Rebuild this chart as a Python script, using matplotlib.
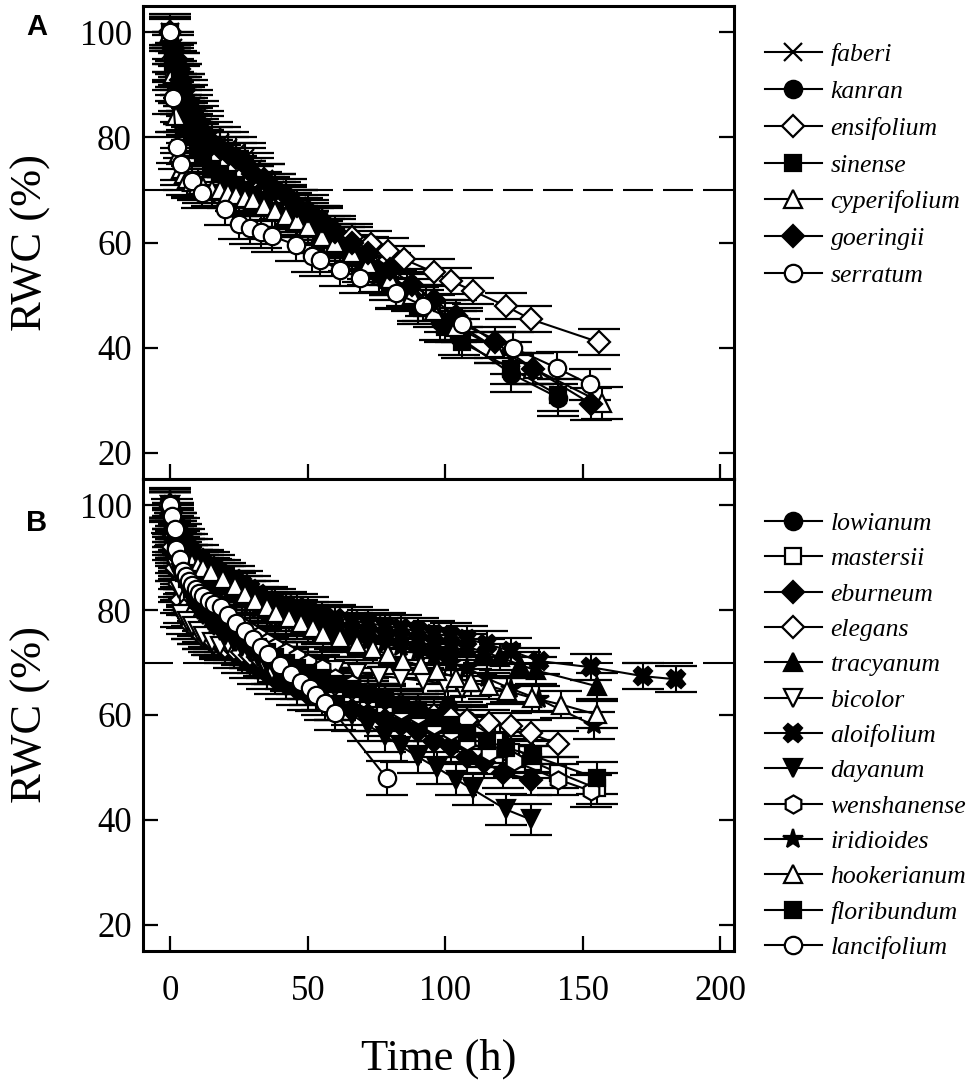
import matplotlib
matplotlib.use("Agg")
import matplotlib.pyplot as plt

plt.rcParams['font.family'] = ['Liberation Serif', 'DejaVu Serif']
plt.rcParams['mathtext.fontset'] = 'stix'

# ---------------- Panel A data ----------------
a_names = ["faberi", "kanran", "ensifolium", "sinense", "cyperifolium", "goeringii", "serratum"]

faberi_t = [0,1,2,3,4,5,6,8,10,12,15,18,21,24,27,30,34,38,42,46,50,54,58,63,68,74,80,86,93,100,106,118,124]
faberi_v = [100,97,95,93,91,89,88,86,84,82,80,79,78,77,76,74,72,70,68,67,65,64,62,60,58,56,53,51,49,46,44,40,38]
faberi_e = 3.0

kanran_t = [0,1,2,3,4,5,6,8,10,12,15,18,21,24,27,30,33,36,40,44,48,52,56,60,65,70,76,82,90,98,105,124,141]
kanran_v = [100,96,93,90,88,86,84,82,80,78,76,75,74,73,72,71,70,69,68,66,65,63,61,60,58,56,54,51,48,45,42,35,30.5]
kanran_e = 3.5

ensifolium_t = [0,1,2,3,4,5,6,8,10,12,15,18,21,24,27,30,34,38,42,46,50,55,60,66,73,79,85,96,102,110,122,131,156]
ensifolium_v = [100,95,92,89,87,85,84,82,80,79,77,76,75,74,73,72,70,69,68,66,65,64,62,61,59.7,58.4,56.8,54.3,52.7,50.8,47.9,45.4,41]
ensifolium_e = 2.5

sinense_t = [0,1,2,3,4,5,6,8,10,12,15,18,21,24,27,30,34,38,42,46,50,55,60,66,72,80,90,100,106,124,141]
sinense_v = [100,94,91,88,86,84,82,80,78,76,74,73,72,71,70,69,68,66,65,64,63,61,59,57,55,52,48,44,41,36,31]
sinense_e = 3.0

cyperifolium_t = [0,1,2,3,4,5,6,8,10,12,15,18,21,24,27,30,34,38,42,46,50,55,60,66,72,80,88,96,104,118,132,157]
cyperifolium_v = [100,92,84,77,74,73,72,71.5,71,70.5,70,70,69.5,69,68.5,68,67,66,65,64,63,61,60,58,56,53,50,47,44,40,36,29.5]
cyperifolium_e = 3.0

goeringii_t = [0,1,2,3,4,5,6,8,10,12,15,18,21,24,27,30,34,38,42,46,50,55,60,66,72,80,88,96,104,118,132,153]
goeringii_v = [100,97,95,93,91,89,87,85,83,81,79,78,77,76,75,73,72,70,69,67,66,64,62,60,58,55,52,49,46,41,36,29.3]
goeringii_e = 3.0

serratum_t = [0,0.8,2.4,3.9,8,11.5,19.7,25,28.8,32.8,37,45.8,51.4,54.3,61.6,68.9,82.2,91.8,105.9,124.5,140.6,152.6]
serratum_v = [100,87.5,78.1,74.9,71.7,69.5,66.3,63.6,62.8,62,61.2,59.5,57.4,56.7,54.8,53.3,50.3,48,44.5,40,36.1,33]
serratum_e = 3.0

# ---------------- Panel B data ----------------
b_names = ["lowianum", "mastersii", "eburneum", "elegans", "tracyanum", "bicolor", "aloifolium",
           "dayanum", "wenshanense", "iridioides", "hookerianum", "floribundum", "lancifolium"]

lowianum_t = [0,1,2,3,4,5,6,8,10,12,14,16,18,20,23,26,29,32,35,38,42,46,50,55,60,66,72,78,84,90,96,101,108,120,131]
lowianum_v = [100,96,93,91,89,87,86,84,82,81,80,79,78,77,76,75,74,73,72,71,70,69,68,67,66,65,64,63,62,61,60,61.5,59,55,52]
lowianum_e = 3.0

mastersii_t = [0,1,2,3,4,5,6,8,10,12,14,16,18,20,23,26,29,32,35,38,42,46,50,55,60,66,72,78,84,90,96,102,108,118,124,132,141,155]
mastersii_v = [100,95,92,90,88,86,85,83,81,80,79,78,77,76,75,74,73,72,71,70,69,68,67,66,65,64,63,62,61,60,59,58,57,55,53,51,49,46]
mastersii_e = 3.0

eburneum_t = [0,1,2,3,4,5,6,8,10,12,14,16,18,20,23,26,29,32,35,38,42,46,50,55,60,66,72,78,84,90,96,102,108,114,121,131]
eburneum_v = [100,94,90,87,85,83,82,80,78,77,76,75,74,73,72,71,70,69,68,67,66,65,64,63,62,61,60,59,58,57,55,54,52,51,49,47.7]
eburneum_e = 3.0

elegans_t = [0,1,2,3,4,5,6,8,10,12,14,16,18,20,23,26,29,32,35,38,42,46,50,55,60,66,72,78,84,90,96,102,108,116,124,131,141]
elegans_v = [100,92,88,85,82,80,79,77,76,75,74.5,74,73.5,73,72.5,72,71.5,71,70.5,70,69,68.5,68,67,66,65,64,63,62,61,60,59.5,59,58.5,57.9,56.5,54.4]
elegans_e = 2.5

tracyanum_t = [0,1,2,3,4,5,6,8,10,12,14,16,18,20,23,26,29,32,35,38,42,46,50,55,60,66,72,78,84,90,96,102,108,114,120,127,133,155]
tracyanum_v = [100,98,96,94,93,92,91,90,89,88,87.5,87,86.5,86,85,84,83,82,81,80.5,80,79.5,79,78.5,78,77,76.5,76,75,74.5,74,73.5,73,72,71,69.6,68.5,65.5]
tracyanum_e = 2.5

bicolor_t = [0,1,2,3,4,6,8,10,12,15,18,21,24,27,30,34,37,42,48,54,60,68,76,84,92,100,106]
bicolor_v = [100,93,88,84,79.2,78,77,76,75,74,73.1,73.5,74,74.4,72,70,68.4,70,69.5,69,68.5,68,67.5,67,66.5,66,65]
bicolor_e = 2.5

aloifolium_t = [0,1,2,3,4,5,6,8,10,12,14,16,18,20,23,26,29,32,35,38,42,46,50,55,60,66,72,78,84,90,96,102,108,115,124,134,153,172,184]
aloifolium_v = [100,98,96,95,94,93,92,91,90,89,88.5,88,87,86.5,86,85,84,83,82,81.5,81,80.5,80,79,78.5,78,77.5,77,76.5,76,75.5,75,74.5,73.5,72.2,70.3,69.1,67.4,66.8]
aloifolium_e = 2.5

dayanum_t = [0,1,2,3,4,5,6,8,10,12,14,16,18,20,23,26,29,32,35,38,42,46,50,55,60,66,72,78,84,90,97,104,110,122,131]
dayanum_v = [100,95,92,89,87,85,84,82,80,79,78,77,76,75,74,73,72,71,70,69,68,67,66,64,62,60,58,56,54,52,49.9,47.7,45.8,42,40.1]
dayanum_e = 3.0

wenshanense_t = [0,1,2,3,4,5,6,8,10,12,14,16,18,20,23,26,29,32,35,38,42,46,50,55,60,66,72,78,84,90,96,102,108,116,125,141,153]
wenshanense_v = [100,97,94,92,90,88,87,85,84,83,82,81,80,79,78,77,76,75,74,73,72,71,70,69,67,66,64,63,61,60,58,57,55,53,51.2,47.7,45.5]
wenshanense_e = 3.0

iridioides_t = [0,1,2,3,4,5,6,8,10,12,14,16,18,20,23,26,29,32,35,38,42,46,50,55,60,66,72,78,84,90,96,102,108,115,124,134,154]
iridioides_v = [100,97,95,93,92,91,90,89,88,87,86,85.5,85,84,83,82,81,80,79,78.5,78,77,76.5,76,75,74.5,74,73.5,73,72,71,70,69,67,65,63,58]
iridioides_e = 2.5

hookerianum_t = [0,1,2,3,4,5,6,8,10,12,14.8,19,23.3,27,30.6,35,38.3,43,47.6,52,55.5,61.6,68,73.7,79.2,84.6,91,96.8,104,109.5,116,122.3,131.4,142,155]
hookerianum_v = [100,97,95,93,92,91,90,89,88.5,88,87.2,86,84.6,83,81.7,80.5,79.5,78.5,77.6,76.5,75.4,74.7,73.5,72.5,71.6,70.3,69.5,68.4,67.1,66.2,65.5,64.6,63.3,62,60.1]
hookerianum_e = 2.5

floribundum_t = [0,1,2,3,4,5,6,8,10,12,14,16,18,20,23,26,29,32,35,38,42,46,50,55,60,66,72,78,84,90,96,102,108,115,122,132,155]
floribundum_v = [100,96,93,91,89,87,86,84,82,81,80,79,78,77,76,75,74,73,72,71,70,69,68,67,66,65,64,63,62,61,59.5,58,56.6,55,53.8,52.2,48]
floribundum_e = 3.0

lancifolium_t = [0,0.7,1.5,2,3.3,4.4,5.5,6.9,8,9.4,10.5,11.7,14,16,18.5,21,24,27,30,33,35.4,40,44,47.6,50.6,53,56.1,59.7,78.6]
lancifolium_v = [100,97.9,95.4,91.6,89.7,87.5,86.5,85.6,84.8,84,83.3,82.7,81.8,81.2,80.5,79,77.5,76,74.5,73,71.6,69.5,67.8,66.2,65.2,63.9,62.3,60.4,48]
lancifolium_e = 3.2

x_ticks = [0, 50, 100, 150, 200]
y_ticks = [20, 40, 60, 80, 100]
threshold = 70

# ---------------- styles ----------------
W = 'white'
K = 'black'
a_series = [
    (faberi_t, faberi_v, faberi_e, dict(marker='x', mfc=K, ms=13, mew=1.6)),
    (kanran_t, kanran_v, kanran_e, dict(marker='o', mfc=K, ms=12.5)),
    (ensifolium_t, ensifolium_v, ensifolium_e, dict(marker='D', mfc=W, ms=11.5)),
    (sinense_t, sinense_v, sinense_e, dict(marker='s', mfc=K, ms=11.5)),
    (cyperifolium_t, cyperifolium_v, cyperifolium_e, dict(marker='^', mfc=W, ms=12.5)),
    (goeringii_t, goeringii_v, goeringii_e, dict(marker='D', mfc=K, ms=11.5)),
    (serratum_t, serratum_v, serratum_e, dict(marker='o', mfc=W, ms=12.5)),
]
b_series = [
    (lowianum_t, lowianum_v, lowianum_e, dict(marker='o', mfc=K, ms=12.5)),
    (mastersii_t, mastersii_v, mastersii_e, dict(marker='s', mfc=W, ms=11.5)),
    (eburneum_t, eburneum_v, eburneum_e, dict(marker='D', mfc=K, ms=11.5)),
    (elegans_t, elegans_v, elegans_e, dict(marker='D', mfc=W, ms=11.5)),
    (tracyanum_t, tracyanum_v, tracyanum_e, dict(marker='^', mfc=K, ms=12.5)),
    (bicolor_t, bicolor_v, bicolor_e, dict(marker='v', mfc=W, ms=12.5)),
    (aloifolium_t, aloifolium_v, aloifolium_e, dict(marker='X', mfc=K, ms=13)),
    (dayanum_t, dayanum_v, dayanum_e, dict(marker='v', mfc=K, ms=12.5)),
    (wenshanense_t, wenshanense_v, wenshanense_e, dict(marker='h', mfc=W, ms=13)),
    (iridioides_t, iridioides_v, iridioides_e, dict(marker='*', mfc=K, ms=15)),
    (hookerianum_t, hookerianum_v, hookerianum_e, dict(marker='^', mfc=W, ms=12.5)),
    (floribundum_t, floribundum_v, floribundum_e, dict(marker='s', mfc=K, ms=11.5)),
    (lancifolium_t, lancifolium_v, lancifolium_e, dict(marker='o', mfc=W, ms=12.5)),
]

fig = plt.figure(figsize=(9.71, 10.90), dpi=100)
L, R = 143/971, 734/971
axA = fig.add_axes([L, 1-479/1090, R-L, (479-6)/1090])
axB = fig.add_axes([L, 1-951/1090, R-L, (951-479)/1090])


def draw(ax, series, names):
    handles = []
    for (t, v, e, st), name in zip(series, names):
        ax.errorbar(t, v, yerr=e, fmt='none', ecolor=K, elinewidth=1.5,
                    capsize=15, capthick=1.6, zorder=2)
        mk = dict(st)
        ms = mk.pop('ms')
        mfc = mk.pop('mfc')
        mew = mk.pop('mew', 1.6)
        h, = ax.plot(t, v, color=K, lw=1.5, mec=K, mfc=mfc, ms=ms, mew=mew,
                     label=name, zorder=3, **mk)
        handles.append(h)
    ax.axhline(threshold, color=K, lw=1.5, dashes=(14.4, 4.8), zorder=1)
    ax.set_xlim(-10, 205)
    ax.set_ylim(15, 105)
    ax.set_xticks(x_ticks)
    ax.set_yticks(y_ticks)
    ax.tick_params(axis='both', direction='in', length=11, width=1.6,
                   labelsize=25, pad=8)
    ax.tick_params(axis='x', pad=17)
    ax.tick_params(axis='y', right=True, left=True)
    ax.tick_params(axis='x', top=False, bottom=True)
    for sp in ax.spines.values():
        sp.set_linewidth(2.2)
    ax.set_ylabel('RWC (%)', fontsize=32, labelpad=21)
    return handles


hA = draw(axA, a_series, a_names)
hB = draw(axB, b_series, b_names)
axA.tick_params(axis='x', labelbottom=False)
axB.set_xlabel('Time (h)', fontsize=32, labelpad=22)

leg_font = dict(family='Liberation Serif', style='italic', size=18.5)
axA.legend(handles=hA, loc='upper left', bbox_to_anchor=(765/971, 1-43/1090),
           bbox_transform=fig.transFigure, frameon=False, prop=leg_font,
           handlelength=2.2, handletextpad=0.35, labelspacing=0.54,
           borderpad=0, borderaxespad=0, markerscale=1.0)
axB.legend(handles=hB, loc='upper left', bbox_to_anchor=(765/971, 1-512/1090),
           bbox_transform=fig.transFigure, frameon=False, prop=leg_font,
           handlelength=2.2, handletextpad=0.35, labelspacing=0.48,
           borderpad=0, borderaxespad=0, markerscale=1.0)

fig.text(37/971, 1-27/1090, 'A', fontsize=21, fontweight='bold',
         family='Liberation Sans', ha='center', va='center')
fig.text(37/971, 1-523/1090, 'B', fontsize=21, fontweight='bold',
         family='Liberation Sans', ha='center', va='center')

fig.savefig('out.png', dpi=100)
